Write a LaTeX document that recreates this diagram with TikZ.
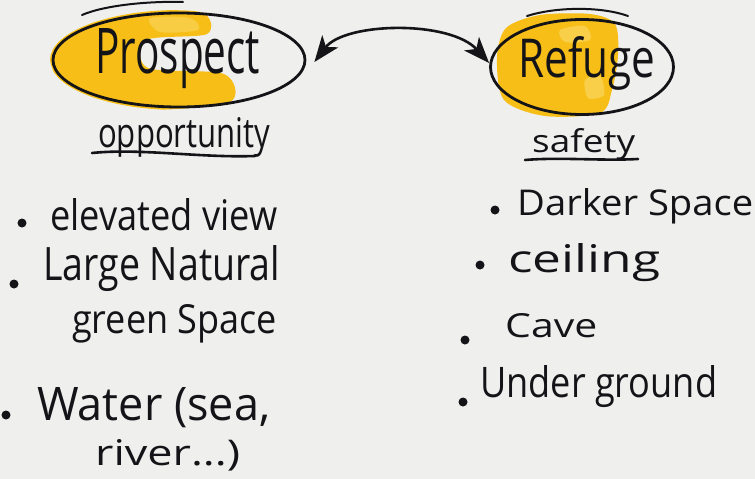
\documentclass[tikz,border=0pt]{standalone}
\usepackage{fontspec}
\setmainfont{Open Sans}
\usetikzlibrary{shapes.geometric,arrows.meta}
\definecolor{paper}{RGB}{239,239,237}
\definecolor{ink}{RGB}{20,20,24}
\definecolor{ochre}{RGB}{246,190,22}
\definecolor{lightochre}{RGB}{250,212,88}
\newcommand{\hw}[3]{\resizebox{#1pt}{#2pt}{#3}}
\begin{document}
\begin{tikzpicture}[x=1pt,y=-1pt,
  bubble/.style={ellipse,draw=ink,line width=2.8pt,inner sep=0pt},
  txt/.style={anchor=base west,inner sep=0pt,text=ink},
  bullet/.style={circle,fill=ink,inner sep=0pt,minimum size=9pt},
  pen/.style={draw=ink,line width=2.6pt,line cap=round}]
\fill[paper] (0,0) rectangle (755,479);
\useasboundingbox (0,0) rectangle (755,479);

% yellow wash, Prospect
\begin{scope}
\clip (179,60) ellipse (129 and 50);
\fill[ochre] plot[smooth cycle] coordinates {(50,60) (68,26) (118,12) (200,12) (207,34) (146,40) (148,68) (224,74) (230,102) (150,110) (78,104)};
\fill[lightochre,opacity=0.7] plot[smooth cycle] coordinates {(150,18) (190,18) (198,30) (160,32)};
\end{scope}
% yellow wash, Refuge
\fill[ochre] plot[smooth cycle] coordinates {(497,58) (506,28) (540,15) (590,14) (615,24) (618,55) (612,90) (600,113) (545,116) (504,100)};
\fill[lightochre,opacity=0.8] plot[smooth cycle] coordinates {(585,80) (600,76) (604,95) (588,98)};
\fill[lightochre,opacity=0.8] plot[smooth cycle] coordinates {(560,30) (585,26) (590,40) (565,42)};

% ellipses
\node[bubble,minimum width=252pt,minimum height=94pt] (pros) at (179,60) {};
\node[bubble,minimum width=183pt,minimum height=95pt] (ref) at (582,67) {};

% stray strokes above the ellipses
\coordinate (ps1) at (82,15); \coordinate (ps2) at (183,2);
\draw[pen,line width=2pt] (ps1) .. controls (105,5) and (150,1) .. (ps2);
\coordinate (rs1) at (527,16); \coordinate (rs2) at (628,16);
\draw[pen,line width=2pt] (rs1) .. controls (555,7) and (600,6) .. (rs2);

% headings
\node[txt] (tpros) at (95,73) {\hw{165}{45}{Prospect}};
\node[txt] (tref) at (518,77) {\hw{137}{41}{Refuge}};

% connector
\draw[pen,{Stealth[length=26pt,width=20pt,inset=7pt]}-{Stealth[length=26pt,width=20pt,inset=7pt]}]
  ([xshift=8pt,yshift=-2pt]pros.east) .. controls (345,22) and (450,20) .. ([xshift=0pt,yshift=4pt]ref.west);

% subtitles
\node[txt] (opp) at (98,147) {\hw{172}{30}{opportunity}};
\coordinate (u1a) at (92,153); \coordinate (u1b) at (255,156);
\draw[pen] (u1a) .. controls (140,148) and (200,158) .. (u1b);
\node[txt] (saf) at (532,152) {\hw{103}{24}{safety}};
\coordinate (u2a) at (525,160); \coordinate (u2b) at (638,159);
\draw[pen] (u2a) .. controls (560,157) and (600,161) .. (u2b);

% left list
\node[bullet] (b1) at (22,223) {};
\node[txt] (l1) at (50,230) {\hw{227}{32}{elevated view}};
\node[bullet] (b2) at (14,284) {};
\node[txt] (l2) at (43,280) {\hw{237}{35}{Large Natural}};
\node[txt] (l2b) at (72,333) {\hw{205}{29}{green Space}};
\node[bullet] (b3) at (6,415) {};
\node[txt] (l3) at (37,420) {\hw{233}{33}{Water (sea,}};
\node[txt] (l3b) at (95,465) {\hw{145}{26}{river...)}};

% right list
\node[bullet] (r1b) at (495,210) {};
\node[txt] (r1) at (517,215) {\hw{236}{27}{Darker Space}};
\node[bullet] (r2b) at (480,265) {};
\node[txt] (r2) at (508,272) {\hw{152}{29}{ceiling}};
\node[bullet] (r3b) at (465,340) {};
\node[txt] (r3) at (505,337) {\hw{92}{24}{Cave}};
\node[bullet] (r4b) at (463,402) {};
\node[txt] (r4) at (480,397) {\hw{237}{32}{Under ground}};
\end{tikzpicture}
\end{document}
